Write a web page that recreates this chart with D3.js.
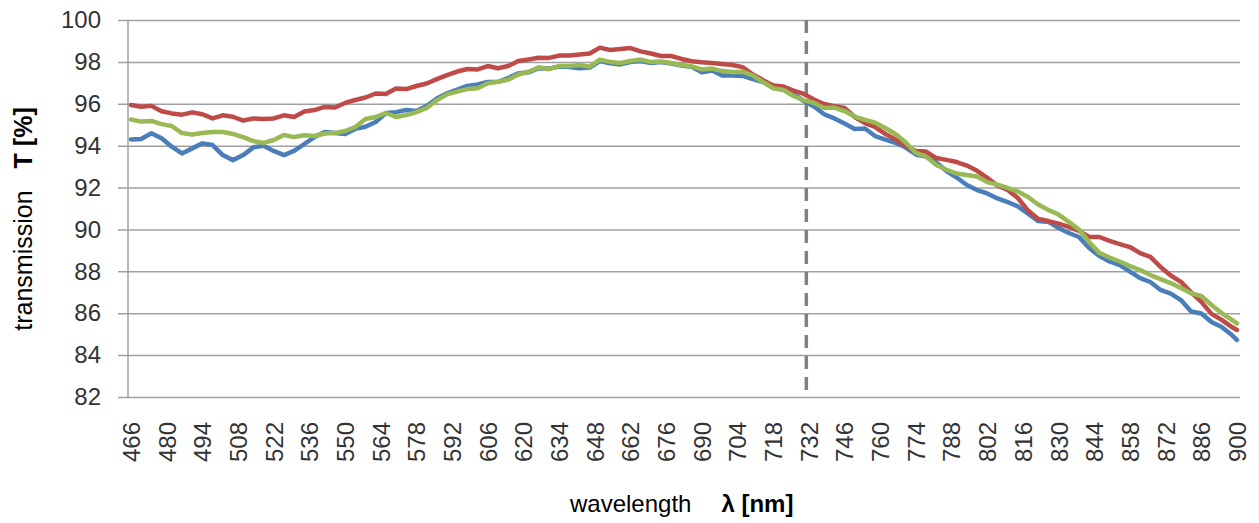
<!DOCTYPE html>
<html>
<head>
<meta charset="utf-8">
<script src="https://cdn.jsdelivr.net/npm/d3@7"></script>
<style>
  body { margin: 0; background: #fff; }
  svg { display: block; font-family: "Liberation Sans", Arial, sans-serif; }
</style>
</head>
<body>
<div id="chart-div"></div>
<script>
// sampled wavelengths (nm)
var wavelengths = [466, 470, 474, 478, 482, 486, 490, 494, 498, 502, 506, 510, 514, 518, 522, 526,
    530, 534, 538, 542, 546, 550, 554, 558, 562, 566, 570, 574, 578, 582, 586, 590, 594, 598, 602,
    606, 610, 614, 618, 622, 626, 630, 634, 638, 642, 646, 650, 654, 658, 662, 666, 670, 674, 678,
    682, 686, 690, 694, 698, 702, 706, 710, 714, 718, 722, 726, 730, 734, 738, 742, 746, 750, 754,
    758, 762, 766, 770, 774, 778, 782, 786, 790, 794, 798, 802, 806, 810, 814, 818, 822, 826, 830,
    834, 838, 842, 846, 850, 854, 858, 862, 866, 870, 874, 878, 882, 886, 890, 894, 898, 900];

var blueT = [94.3, 94.32, 94.59, 94.35, 93.95, 93.63, 93.87, 94.11, 94.03, 93.55, 93.31, 93.55, 93.92, 94.0, 93.75, 93.55,
    93.75, 94.08, 94.41, 94.65, 94.6, 94.56, 94.8, 94.9, 95.13, 95.56, 95.6, 95.7, 95.65, 95.89, 96.25, 96.5, 96.67, 96.85, 96.92,
    97.04, 97.05, 97.23, 97.45, 97.5, 97.7, 97.68, 97.78, 97.76, 97.7, 97.73, 98.04, 97.93, 97.88, 97.99, 98.04, 97.95, 97.99, 97.92,
    97.83, 97.77, 97.5, 97.59, 97.35, 97.35, 97.33, 97.18, 97.04, 96.87, 96.75, 96.47, 96.13, 95.87, 95.5, 95.3, 95.06, 94.8, 94.82,
    94.46, 94.29, 94.14, 93.91, 93.58, 93.48, 93.2, 92.79, 92.48, 92.12, 91.88, 91.72, 91.48, 91.31, 91.1, 90.75, 90.4, 90.36, 90.07,
    89.83, 89.64, 89.11, 88.73, 88.47, 88.3, 87.99, 87.68, 87.49, 87.11, 86.94, 86.63, 86.08, 85.99, 85.58, 85.34, 84.96, 84.72];

var redT = [95.94, 95.86, 95.9, 95.64, 95.54, 95.48, 95.59, 95.5, 95.3, 95.45, 95.38, 95.2, 95.3, 95.27, 95.3, 95.45,
    95.37, 95.63, 95.7, 95.85, 95.82, 96.04, 96.18, 96.3, 96.49, 96.47, 96.73, 96.7, 96.85, 96.97, 97.18, 97.37, 97.54, 97.66, 97.64,
    97.8, 97.7, 97.8, 98.04, 98.11, 98.2, 98.19, 98.3, 98.3, 98.35, 98.4, 98.68, 98.57, 98.62, 98.66, 98.5, 98.4, 98.28, 98.28,
    98.14, 98.03, 97.98, 97.95, 97.9, 97.85, 97.75, 97.4, 97.13, 96.87, 96.82, 96.63, 96.47, 96.2, 95.99, 95.89, 95.8, 95.37, 95.08,
    94.89, 94.56, 94.3, 93.98, 93.74, 93.72, 93.41, 93.32, 93.22, 93.05, 92.8, 92.46, 92.1, 91.88, 91.5, 90.9, 90.5, 90.4, 90.28,
    90.12, 89.93, 89.64, 89.64, 89.45, 89.3, 89.16, 88.87, 88.69, 88.21, 87.8, 87.5, 87.0, 86.54, 85.97, 85.68, 85.34, 85.2];

var greenT = [95.25, 95.15, 95.18, 95.03, 94.94, 94.6, 94.53, 94.6, 94.65, 94.65, 94.56, 94.41, 94.22, 94.13, 94.27, 94.51,
    94.41, 94.5, 94.46, 94.58, 94.6, 94.7, 94.89, 95.27, 95.37, 95.56, 95.37, 95.46, 95.6, 95.8, 96.16, 96.45, 96.58, 96.7, 96.74,
    96.98, 97.05, 97.15, 97.4, 97.53, 97.74, 97.65, 97.8, 97.8, 97.85, 97.77, 98.11, 98.0, 97.95, 98.04, 98.11, 97.99, 98.02, 97.95,
    97.85, 97.78, 97.64, 97.68, 97.56, 97.52, 97.53, 97.35, 97.04, 96.74, 96.66, 96.37, 96.16, 96.04, 95.8, 95.82, 95.65, 95.39, 95.23,
    95.1, 94.84, 94.56, 94.15, 93.65, 93.48, 93.08, 92.85, 92.67, 92.6, 92.53, 92.26, 92.14, 91.98, 91.81, 91.55, 91.19, 90.93, 90.71,
    90.36, 90.0, 89.4, 88.88, 88.66, 88.47, 88.25, 88.06, 87.82, 87.63, 87.44, 87.2, 86.95, 86.82, 86.39, 86.01, 85.68, 85.52];

var yTickValues = [82, 84, 86, 88, 90, 92, 94, 96, 98, 100];
var xTickLabels = [466, 480, 494, 508, 522, 536, 550, 564, 578, 592, 606, 620, 634, 648, 662, 676, 690,
    704, 718, 732, 746, 760, 774, 788, 802, 816, 830, 844, 858, 872, 886, 900];
var markerNm = 731;

function TransmissionChart() {
    var self = this;
    self.w = 1259;
    self.h = 523;
    self.left = 128;
    self.right = 1240;
    self.top = 20;
    self.bottom = 397;
    self.container_id = "chart-div";

    self.init = function () {
        self.svg = d3.select("#" + self.container_id)
            .append("svg")
            .attr("width", self.w)
            .attr("height", self.h);

        // half a category of padding on each side, like the category axis
        self.x = d3.scaleLinear()
            .domain([466 - 1.18, 900 + 1.18])
            .range([self.left, self.right]);
        self.y = d3.scaleLinear()
            .domain([82, 100])
            .range([self.bottom, self.top]);

        self.draw_grid();
        self.draw_axes();
        self.draw_marker();
        self.draw_lines();
        self.draw_titles();
    };

    self.draw_grid = function () {
        var grid = self.svg.append("g")
            .attr("transform", "translate(" + (self.left - 10) + ",0)")
            .call(d3.axisRight(self.y)
                .tickValues(yTickValues)
                .tickSize(self.right - self.left + 10)
                .tickFormat(""));
        grid.select(".domain").remove();
        grid.selectAll("line")
            .attr("stroke", "#a0a0a0")
            .attr("stroke-width", 1.5);

        self.svg.append("line")
            .attr("x1", self.left)
            .attr("x2", self.left)
            .attr("y1", self.top)
            .attr("y2", self.bottom)
            .attr("stroke", "#a0a0a0")
            .attr("stroke-width", 1.5);
    };

    self.draw_axes = function () {
        var yAxis = self.svg.append("g")
            .attr("transform", "translate(" + self.left + ",0)")
            .call(d3.axisLeft(self.y)
                .tickValues(yTickValues)
                .tickSize(0)
                .tickPadding(27));
        yAxis.select(".domain").remove();
        yAxis.selectAll("text")
            .attr("fill", "#333")
            .style("font-size", "24px")
            .style("font-family", "'Liberation Sans', Arial, sans-serif");

        var xAxis = self.svg.append("g")
            .attr("transform", "translate(0," + self.bottom + ")")
            .call(d3.axisBottom(self.x)
                .tickValues(xTickLabels)
                .tickSize(0)
                .tickFormat(d3.format("d")));
        xAxis.select(".domain").remove();
        xAxis.selectAll("text")
            .attr("transform", "rotate(-90)")
            .attr("x", -25)
            .attr("y", 0)
            .attr("dy", "0.35em")
            .attr("fill", "#333")
            .style("text-anchor", "end")
            .style("font-size", "24px")
            .style("font-family", "'Liberation Sans', Arial, sans-serif");
    };

    self.draw_marker = function () {
        self.svg.append("line")
            .attr("x1", self.x(markerNm))
            .attr("x2", self.x(markerNm))
            .attr("y1", self.top)
            .attr("y2", self.bottom)
            .attr("stroke", "#808080")
            .attr("stroke-width", 3.5)
            .attr("stroke-dasharray", "13,8");
    };

    self.draw_lines = function () {
        var series = [
            { values: blueT, color: "#4a7ebb" },
            { values: redT, color: "#be4b48" },
            { values: greenT, color: "#98b954" }
        ];
        var line = d3.line()
            .x(function (d, i) { return self.x(wavelengths[i]); })
            .y(function (d) { return self.y(d); });
        self.svg.append("g")
            .selectAll("path")
            .data(series)
            .enter()
            .append("path")
            .attr("d", function (d) { return line(d.values); })
            .attr("fill", "none")
            .attr("stroke", function (d) { return d.color; })
            .attr("stroke-width", 4.5)
            .attr("stroke-linejoin", "round")
            .attr("stroke-linecap", "round");
    };

    self.draw_titles = function () {
        var yt = self.svg.append("text")
            .attr("transform", "translate(32,219) rotate(-90)")
            .attr("text-anchor", "middle")
            .attr("fill", "#000")
            .style("font-size", "25px");
        yt.append("tspan").text("transmission");
        yt.append("tspan")
            .attr("dx", 22)
            .style("font-weight", "bold")
            .text("T [%]");

        var xt = self.svg.append("text")
            .attr("x", 570)
            .attr("y", 512)
            .attr("fill", "#000")
            .style("font-size", "24px");
        xt.append("tspan").text("wavelength");
        xt.append("tspan")
            .attr("dx", 30)
            .style("font-weight", "bold")
            .text("λ [nm]");
    };
}

var chart = new TransmissionChart();
chart.init();
</script>
</body>
</html>
